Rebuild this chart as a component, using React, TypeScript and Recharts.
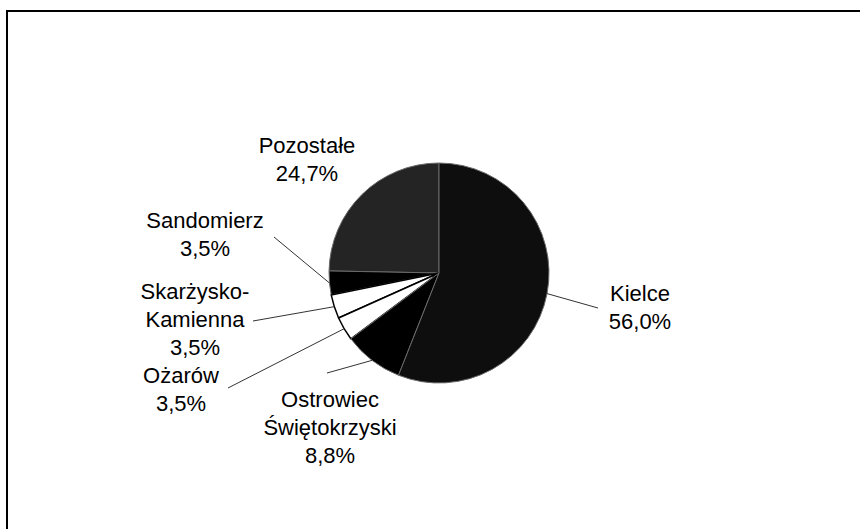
import { PieChart, Pie, Cell } from 'recharts';

const cities = ['Pozostałe', 'Sandomierz', 'Skarżysko-Kamienna', 'Ożarów', 'Ostrowiec Świętokrzyski', 'Kielce'];
const shares = [24.7, 3.5, 3.5, 3.5, 8.8, 56.0];
const labelLines = [
  ['Pozostałe', '24,7%'],
  ['Sandomierz', '3,5%'],
  ['Skarżysko-', 'Kamienna', '3,5%'],
  ['Ożarów', '3,5%'],
  ['Ostrowiec', 'Świętokrzyski', '8,8%'],
  ['Kielce', '56,0%'],
];

const fills = ['#242424', '#000000', '#ffffff', '#ffffff', '#000000', '#0e0e0e'];
const strokes = ['#6a6a6a', '#6a6a6a', '#000000', '#000000', '#6a6a6a', '#6a6a6a'];

// label placement relative to the pie centre: text centre and leader end
const labelPos = [
  { tx: -132, ty: -128, lx: null, ly: null },
  { tx: -234, ty: -53, lx: -165, ly: -36 },
  { tx: -244, ty: 18, lx: -186, ly: 48 },
  { tx: -258, ty: 102, lx: -211, ly: 115 },
  { tx: -109, ty: 126, lx: -112, ly: 100 },
  { tx: 201, ty: 20, lx: 159, ly: 35 },
];

const data = cities.map((name, i) => ({ name, value: shares[i] }));

const RAD = Math.PI / 180;

function renderLabel(props: any) {
  const { cx, cy, midAngle, outerRadius, index } = props;
  const p = labelPos[index];
  const lines = labelLines[index];
  const sx = cx + outerRadius * Math.cos(-midAngle * RAD);
  const sy = cy + outerRadius * Math.sin(-midAngle * RAD);
  return (
    <g key={`lbl-${index}`}>
      {p.lx !== null && (
        <line x1={sx} y1={sy} x2={cx + p.lx} y2={cy + (p.ly as number)} stroke="#333" strokeWidth={1} />
      )}
      <text
        x={cx + p.tx}
        y={cy + p.ty + 8}
        textAnchor="middle"
        fill="#000"
        fontSize={22}
        fontFamily="'Liberation Sans', Arial, sans-serif"
      >
        {lines.map((t, i) => (
          <tspan key={i} x={cx + p.tx} dy={i === 0 ? 0 : 28}>
            {t}
          </tspan>
        ))}
      </text>
    </g>
  );
}

export default function App() {
  return (
    <div style={{ position: 'absolute', left: 0, top: 0, width: 860, height: 529, overflow: 'hidden', background: '#fff' }}>
      <div
        style={{
          position: 'absolute',
          left: 6,
          top: 10,
          width: 900,
          height: 600,
          borderLeft: '2px solid #000',
          borderTop: '2px solid #000',
        }}
      />
      <div style={{ position: 'absolute', left: 0, top: 0 }}>
        <PieChart width={860} height={529} margin={{ top: 0, right: 0, bottom: 0, left: 0 }}>
          <Pie
            data={data}
            dataKey="value"
            nameKey="name"
            cx={439}
            cy={273}
            outerRadius={110}
            startAngle={90}
            endAngle={450}
            isAnimationActive={false}
            label={renderLabel}
            labelLine={false}
          >
            {data.map((_, i) => (
              <Cell key={`cell-${i}`} fill={fills[i]} stroke={strokes[i]} strokeWidth={i === 2 || i === 3 ? 1.5 : 1} />
            ))}
          </Pie>
        </PieChart>
      </div>
    </div>
  );
}
